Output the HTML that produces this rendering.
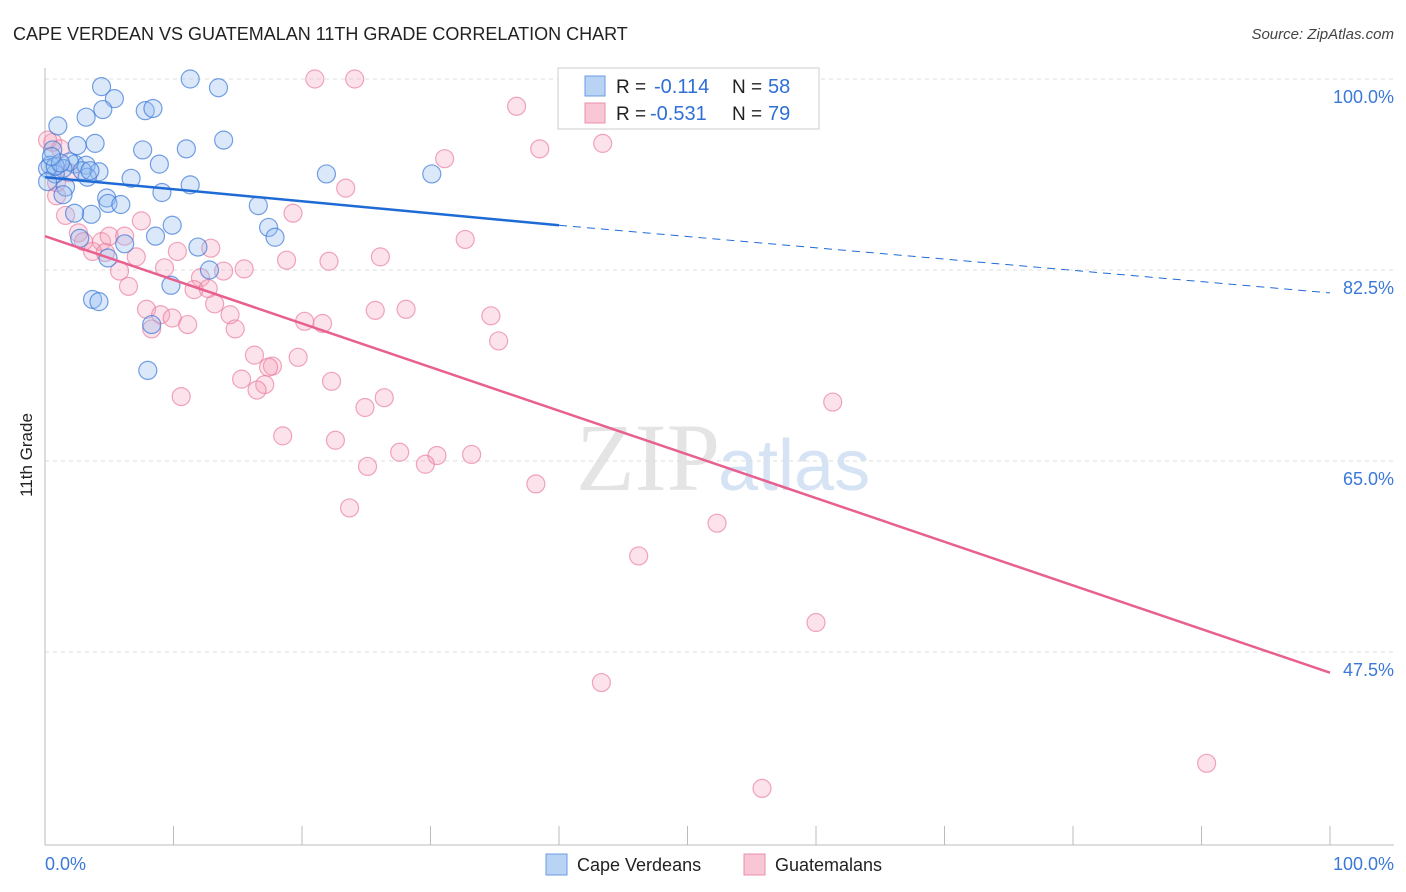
<!DOCTYPE html>
<html><head><meta charset="utf-8"><style>
body{margin:0;background:#fff;font-family:"Liberation Sans",sans-serif;}
svg{display:block}
</style></head><body>
<svg id="chart" width="1406" height="892">
<text x="13" y="40" font-size="18" fill="#222">CAPE VERDEAN VS GUATEMALAN 11TH GRADE CORRELATION CHART</text>
<text x="1394" y="39" font-size="15" fill="#444" font-style="italic" text-anchor="end">Source: ZipAtlas.com</text>
<text x="32" y="455" font-size="17" fill="#222" transform="rotate(-90 32 455)" text-anchor="middle">11th Grade</text>
<text x="720" y="490" font-size="96" fill="#e4e4e4" text-anchor="end" font-family="Liberation Serif">ZIP</text>
<text x="718" y="490" font-size="72" fill="#d5e3f5">atlas</text>
<g id="grid"></g><g id="pts"></g><g id="lines"></g>
<g>
<rect x="558" y="68" width="261" height="61" fill="#fff" stroke="#ccc"/>
<rect x="585" y="76" width="20" height="20" fill="#b9d3f5" stroke="#6a9be0"/>
<rect x="585" y="103" width="20" height="20" fill="#f8c6d5" stroke="#e890ab"/>
<text x="616" y="93" font-size="19" fill="#222">R =</text>
<text x="654" y="93" font-size="20" fill="#2f6fd6">-0.114</text>
<text x="732" y="93" font-size="19" fill="#222">N =</text>
<text x="768" y="93" font-size="20" fill="#2f6fd6">58</text>
<text x="616" y="120" font-size="19" fill="#222">R =</text>
<text x="650" y="120" font-size="20" fill="#2f6fd6">-0.531</text>
<text x="732" y="120" font-size="19" fill="#222">N =</text>
<text x="768" y="120" font-size="20" fill="#2f6fd6">79</text>
</g>
<g>
<rect x="546" y="854" width="21" height="21" fill="#b9d3f5" stroke="#6a9be0"/>
<text x="577" y="871" font-size="18" fill="#222">Cape Verdeans</text>
<rect x="744" y="854" width="21" height="21" fill="#f8c6d5" stroke="#e890ab"/>
<text x="775" y="871" font-size="18" fill="#222">Guatemalans</text>
</g>
<text x="45" y="870" font-size="18" fill="#3b78d8">0.0%</text>
<text x="1394" y="870" font-size="18" fill="#3b78d8" text-anchor="end">100.0%</text>
</svg>
<script>
const xTicks=[0,10,20,30,40,50,60,70,80,90,100];
const yTicks=[100,82.5,65,47.5];
const yTickLabels=["100.0%","82.5%","65.0%","47.5%"];
const blueX=[4.4,11.3,13.5,5.4,4.5,7.8,8.4,3.2,1,13.9,3.9,2.5,7.6,11,0.6,8.9,0.4,2.3,3.2,4.2,1.9,1.4,0.8,6.7,21.9,30.1,11.3,1.6,1.4,9.1,4.8,4.9,5.9,16.6,3.6,2.3,9.9,17.4,8.6,17.9,2.7,6.2,11.9,4.9,12.8,9.8,3.7,4.2,8.3,8,0.2,0.2,0.8,3.3,2.9,3.5,1.2,0.5];
const blueY=[99.3,100,99.2,98.2,97.2,97.1,97.3,96.5,95.7,94.4,94.1,93.9,93.5,93.6,93.5,92.2,92.1,92.2,92.1,91.5,92.4,91.8,91.3,90.9,91.3,91.3,90.3,90.1,89.4,89.6,89.1,88.6,88.5,88.4,87.6,87.7,86.6,86.4,85.6,85.5,85.4,84.9,84.6,83.6,82.5,81.1,79.8,79.6,77.5,73.3,91.8,90.6,92,91,91.6,91.6,92.3,92.9];
const pinkX=[21,24.1,58.5,36.7,43.4,38.5,31.1,23.4,0.6,0.9,1.6,19.3,32.7,2.6,3,4.4,5,6.2,7.5,3.7,4.7,7.1,10.3,12.9,18.8,22.1,26.1,5.8,9.3,13.9,15.5,12.1,11.6,12.7,6.5,13.2,7.9,9,9.9,11.1,14.4,8.3,14.8,25.7,28.1,34.7,35.3,20.2,21.6,16.3,19.7,17.7,17.4,15.3,17.1,16.5,22.3,10.6,26.4,24.9,61.3,18.5,22.6,27.6,30.5,29.6,25.1,33.2,38.2,23.7,52.3,46.2,60,43.3,90.4,55.8,0.9,0.2,1.2,1.9];
const pinkY=[100,100,100,97.5,94.1,93.6,92.7,90,94.2,89.3,87.5,87.7,85.3,85.9,85.1,85.1,85.6,85.6,87,84.2,84.1,83.7,84.2,84.5,83.4,83.3,83.7,82.4,82.7,82.4,82.6,81.8,80.7,80.8,81,79.4,78.9,78.4,78.1,77.5,78.4,77.1,77.1,78.8,78.9,78.3,76,77.8,77.6,74.7,74.5,73.7,73.6,72.5,72,71.5,72.3,70.9,70.8,69.9,70.4,67.3,66.9,65.8,65.5,64.7,64.5,65.6,62.9,60.7,59.3,56.3,50.2,44.7,37.3,35,90.5,94.4,93.6,91.4];
const blueLine=[[0,91],[40,86.6],[100,80.4]];
const pinkLine=[[0,85.6],[100,45.6]];
const NS="http://www.w3.org/2000/svg";
const X=v=>45+v*12.85, Y=v=>79+(100-v)*10.914;
function mk(t,a,p){const e=document.createElementNS(NS,t);for(const k in a)e.setAttribute(k,a[k]);p.appendChild(e);return e;}
const grid=document.getElementById('grid'),pts=document.getElementById('pts'),lines=document.getElementById('lines');
yTicks.forEach((v,i)=>{
 const l=mk('line',{x1:45,x2:1394,y1:Y(v),y2:Y(v),stroke:'#ddd','stroke-dasharray':'4,4'},grid);
 
 
 const t=mk('text',{x:1394,y:Y(v)+24,'font-size':18,fill:'#3b78d8','text-anchor':'end'},grid);
 t.textContent=yTickLabels[i];
 
 
});
mk('line',{x1:45,x2:45,y1:68,y2:845,stroke:'#bbb'},grid);
mk('line',{x1:45,x2:1394,y1:845,y2:845,stroke:'#bbb'},grid);
xTicks.forEach(v=>{
 const l=mk('line',{x1:X(v),x2:X(v),y1:826,y2:845,stroke:'#bbb'},grid);
 
 
});
pinkX.forEach((x,i)=>{
 const c=mk('circle',{cx:X(x),cy:Y(pinkY[i]),r:9,fill:'rgba(245,160,185,0.3)',stroke:'rgba(232,120,155,0.65)','stroke-width':1.2},pts);
 
 
});
blueX.forEach((x,i)=>{
 const c=mk('circle',{cx:X(x),cy:Y(blueY[i]),r:9,fill:'rgba(150,190,240,0.35)',stroke:'rgba(60,120,215,0.7)','stroke-width':1.2},pts);
 
 
});
let b1=mk('line',{x1:X(blueLine[0][0]),y1:Y(blueLine[0][1]),x2:X(blueLine[1][0]),y2:Y(blueLine[1][1]),stroke:'#1f6bd6','stroke-width':2.5},lines);


let b2=mk('line',{x1:X(blueLine[1][0]),y1:Y(blueLine[1][1]),x2:X(blueLine[2][0]),y2:Y(blueLine[2][1]),stroke:'#1f6bd6','stroke-width':1,'stroke-dasharray':'8,6'},lines);


let p1=mk('line',{x1:X(pinkLine[0][0]),y1:Y(pinkLine[0][1]),x2:X(pinkLine[1][0]),y2:Y(pinkLine[1][1]),stroke:'#e8608f','stroke-width':2.5},lines);


</script>
</body></html>
